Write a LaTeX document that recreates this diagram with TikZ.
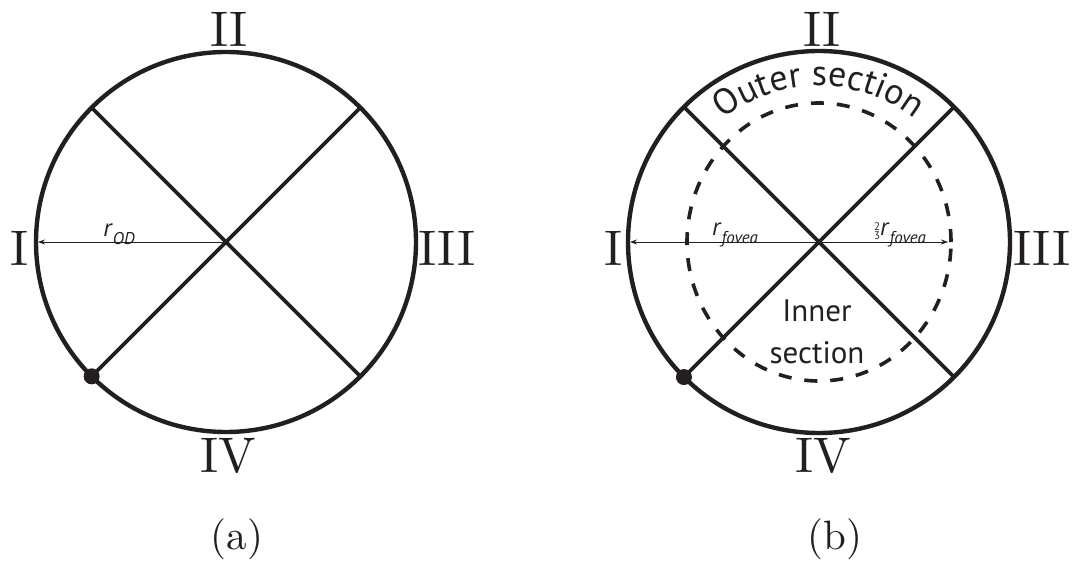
\documentclass[tikz,border=0pt]{standalone}
\usepackage{fontspec}
\usepackage{tikz}
\usetikzlibrary{arrows.meta,positioning,calc,decorations.text}
\newfontfamily\labelfont{PT Sans}
\definecolor{Ink}{HTML}{231F20}
\tikzset{
fielddisc/.style={draw=Ink, line width=4.4pt, circle, inner sep=0pt, outer sep=0pt, minimum size=380pt},
fieldcross/.style={draw=Ink, line width=3.8pt},
fielddash/.style={draw=Ink, line width=3.6pt, dash pattern=on 13pt off 13pt},
fieldarrow/.style={draw=Ink, line width=0.8pt},
fielddot/.style={circle, fill=Ink, inner sep=0pt, minimum size=16pt},
numeral/.style={font=\fontsize{10}{10}\selectfont, text=Ink, inner sep=0pt},
caption/.style={font=\fontsize{10}{10}\selectfont, text=Ink, inner sep=0pt},
radlabel/.style={font=\fontsize{25}{25}\selectfont\labelfont, text=Ink, inner sep=0pt, anchor=base},
seclabel/.style={font=\fontsize{31}{42}\selectfont\labelfont, text=Ink, align=center, inner sep=0pt}
}
\newcommand{\bignum}[1]{\scalebox{5}{#1}}
\newcommand{\bigcaption}[1]{\scalebox{4.1}{#1}}
\newcommand{\rlab}[1]{\textit{r}\raisebox{-0.3em}{\fontsize{17}{17}\selectfont\textit{#1}}}
\newcommand{\twothirds}{\raisebox{-0.15em}{\fontsize{11}{11}\selectfont\shortstack{2\\[-1pt]3}}}

\begin{document}
\begin{tikzpicture}[x=1pt, y=1pt, >={Stealth[length=7pt, width=5pt]}]
  \useasboundingbox (0,0) rectangle (1074,568);
  % (a) optic disc
  \node[fielddisc] (odisc) at (226,326) {};
  \draw[fieldcross] (odisc.135) -- (odisc.315);
  \draw[fieldcross] (odisc.45) -- (odisc.225);
  \node[fielddot] (odot) at (odisc.225) {};
  \draw[fieldarrow, ->, shorten >=2pt] (odisc.center) -- (odisc.west);
  \node[radlabel] (rod) at (119,331) {\rlab{OD}};
  \node[numeral] (oone) at (20,320) {\bignum{I}};
  \node[numeral] (otwo) at (229,539) {\bignum{II}};
  \node[numeral] (othree) at (447,320) {\bignum{III}};
  \node[numeral] (ofour) at (228,112) {\bignum{IV}};
  \node[caption] (capa) at (237,29) {\bigcaption{(a)}};
  % (b) fovea
  \node[fielddisc, minimum size=382pt] (fdisc) at (819,326) {};
  \draw[fielddash] (fdisc.center) ellipse [x radius=132, y radius=139];
  \draw[fieldcross] (fdisc.135) -- (fdisc.315);
  \draw[fieldcross] (fdisc.45) -- (fdisc.225);
  \node[fielddot] (fdot) at (fdisc.225) {};
  \coordinate (fend) at ($(fdisc.center)+(129,0)$);
  \draw[fieldarrow, <->, shorten <=2pt] (fdisc.west) -- (fend);
  \node[radlabel] (rfov) at (735,332) {\rlab{fovea}};
  \node[radlabel] (rfovb) at (900,332) {\twothirds\rlab{fovea}};
  \path[decorate, decoration={text along path, text align=center,
    text={|\fontsize{36}{36}\selectfont\labelfont\color{Ink}|Outer section}}]
    ($(fdisc.center)+(137:156)$) arc[start angle=137, end angle=43, radius=156];
  \node[seclabel] (inner) at (817,236) {Inner\\section};
  \node[numeral] (fone) at (614,320) {\bignum{I}};
  \node[numeral] (ftwo) at (822,539) {\bignum{II}};
  \node[numeral] (fthree) at (1042,320) {\bignum{III}};
  \node[numeral] (ffour) at (823,112) {\bignum{IV}};
  \node[caption] (capb) at (835,29) {\bigcaption{(b)}};
\end{tikzpicture}
\end{document}
